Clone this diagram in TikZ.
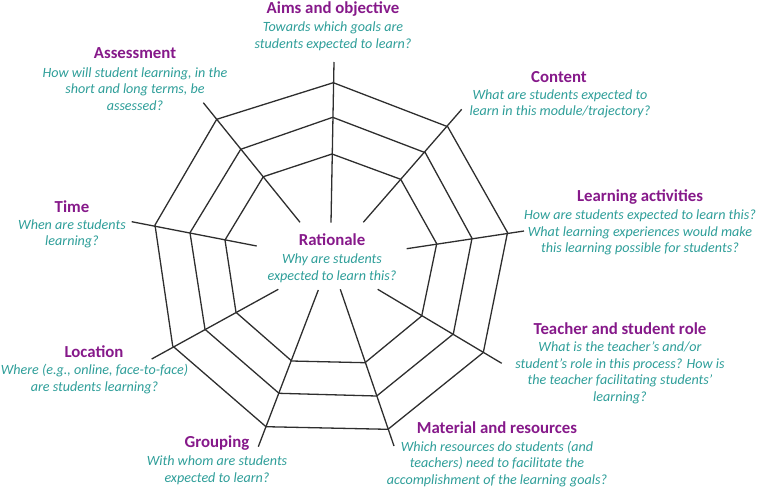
\documentclass[tikz,border=0pt]{standalone}
\usepackage{fontspec}
\setmainfont{Carlito}
\definecolor{ttl}{HTML}{86198A}
\definecolor{dsc}{HTML}{2E9E99}
\definecolor{web}{HTML}{2E2E2E}
\begin{document}
\begin{tikzpicture}[x=1pt,y=-1pt,
  webline/.style={draw=web,line width=1.3pt,line join=miter},
  ttlnode/.style={text=ttl,font=\fontsize{16.8}{19}\selectfont\bfseries,inner sep=0pt},
  dscnode/.style={text=dsc,font=\fontsize{14.1}{16.6}\selectfont\itshape,align=center,inner sep=0pt}]
\useasboundingbox (0,0) rectangle (758,491);
% spokes: t tip, o outer, m middle, i inner, e end
\coordinate (At) at (334,62);   \coordinate (Ao) at (333.3,82.7); \coordinate (Am) at (332.7,117.3); \coordinate (Ai) at (332,154);   \coordinate (Ae) at (331,222.7);
\coordinate (Ct) at (461.7,109.3); \coordinate (Co) at (447.7,126.7); \coordinate (Cm) at (425.3,152.7); \coordinate (Ci) at (400.7,179.3); \coordinate (Ce) at (363.3,222.3);
\coordinate (Lt) at (524,231);  \coordinate (Lo) at (507.5,232.5); \coordinate (Lm) at (472,238.3); \coordinate (Li) at (436.7,243.7); \coordinate (Le) at (406.7,248.7);
\coordinate (Tt) at (501.7,363.3); \coordinate (To) at (483.3,352.5); \coordinate (Tm) at (453.3,334); \coordinate (Ti) at (421.7,316); \coordinate (Te) at (377.7,289.3);
\coordinate (Mt) at (394,446);  \coordinate (Mo) at (388,429.3); \coordinate (Mm) at (376.7,396); \coordinate (Mi) at (365,362.7); \coordinate (Me) at (340.3,289.3);
\coordinate (Gt) at (258.3,446.7); \coordinate (Go) at (266,426.7); \coordinate (Gm) at (279,393.3); \coordinate (Gi) at (291.7,361); \coordinate (Ge) at (318.3,290);
\coordinate (Pt) at (151.7,359); \coordinate (Po) at (172.7,346); \coordinate (Pm) at (205,329.3); \coordinate (Pi) at (236,312.3); \coordinate (Pe) at (278.3,289.3);
\coordinate (Qt) at (131.7,221.7); \coordinate (Qo) at (155,225); \coordinate (Qm) at (190,232.7); \coordinate (Qi) at (225,240); \coordinate (Qe) at (256.7,246);
\coordinate (St) at (203.3,102.7); \coordinate (So) at (216.7,119.3); \coordinate (Sm) at (240.7,149.3); \coordinate (Si) at (263.3,176.7); \coordinate (Se) at (300,222.3);
\foreach \s in {A,C,L,T,M,G,P,Q,S} {\draw[webline] (\s t) -- (\s e);}
\foreach \r in {o,m,i} {\draw[webline] (A\r) -- (C\r) -- (L\r) -- (T\r) -- (M\r) -- (G\r) -- (P\r) -- (Q\r) -- (S\r) -- cycle;}
% labels
\node[ttlnode] (aimsT) at (333,9) {Aims and objective};
\node[dscnode] (aimsD) at (333,36) {Towards which goals are\\students expected to learn?};
\node[ttlnode] (assT) at (135,53) {Assessment};
\node[dscnode] (assD) at (135,89) {How will student learning, in the\\short and long terms, be\\assessed?};
\node[ttlnode] (conT) at (559,77) {Content};
\node[dscnode] (conD) at (560,104) {What are students expected to\\learn in this module/trajectory?};
\node[ttlnode] (laT) at (640,197) {Learning activities};
\node[dscnode] (laD) at (640,232.5) {How are students expected to learn this?\\What learning experiences would make\\this learning possible for students?};
\node[ttlnode] (timT) at (72,207) {Time};
\node[dscnode] (timD) at (72,234) {When are students\\learning?};
\node[ttlnode] (ratT) at (332,240) {Rationale};
\node[dscnode] (ratD) at (332,268) {Why are students\\expected to learn this?};
\node[ttlnode] (tsT) at (620,329) {Teacher and student role};
\node[dscnode] (tsD) at (620,373) {What is the teacher’s and/or\\student’s role in this process? How is\\the teacher facilitating students’\\learning?};
\node[ttlnode] (locT) at (94,352) {Location};
\node[dscnode] (locD) at (94.5,379) {Where (e.g., online, face-to-face)\\are students learning?};
\node[ttlnode] (matT) at (497,428) {Material and resources};
\node[dscnode] (matD) at (497,464) {Which resources do students (and\\teachers) need to facilitate the\\accomplishment of the learning goals?};
\node[ttlnode] (grpT) at (217,443) {Grouping};
\node[dscnode] (grpD) at (217,470.5) {With whom are students\\expected to learn?};
\end{tikzpicture}
\end{document}
